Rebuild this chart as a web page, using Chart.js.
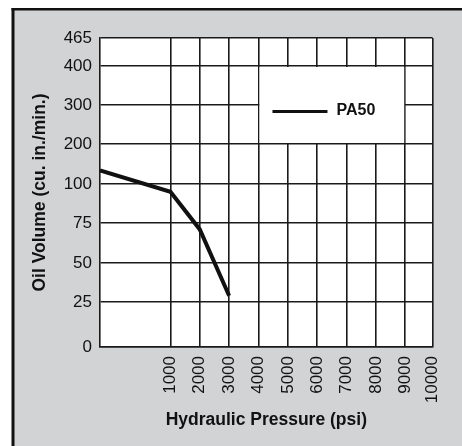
<!DOCTYPE html>
<html>
<head>
<meta charset="utf-8">
<script src="https://cdn.jsdelivr.net/npm/chart.js@4"></script>
<style>
  html, body { margin: 0; padding: 0; background: #fff; }
  canvas { display: block; }
</style>
</head>
<body>
<canvas id="chart" width="462" height="446"></canvas>
<script>
// pressure (psi) and oil volume (cu. in./min.) for PA50
const pressure = [0, 1000, 2000, 3000];
const oilVolume = [134, 95, 71, 29];
const seriesLabel = "PA50";

const xTickLabels = [1000, 2000, 3000, 4000, 5000, 6000, 7000, 8000, 9000, 10000];
const yTickLabels = [0, 25, 50, 75, 100, 200, 300, 400, 465];

// the original chart uses an uneven scale on both axes:
// value stops and where they sit along the axis (axis units)
const xStops = [0, 1000, 2000, 3000, 4000, 5000, 6000, 7000, 8000, 9000, 10000];
const xStopPos = [0, 72, 102, 132, 162, 192, 222, 252, 282, 312, 340];
const yStops = [0, 25, 50, 75, 100, 200, 300, 400, 465];
const yStopPos = [0, 45, 84, 124, 163, 203, 242, 281, 309];

function toAxis(v, stops, pos) {
  if (v <= stops[0]) return pos[0];
  for (let i = 1; i < stops.length; i++) {
    if (v <= stops[i]) {
      const t = (v - stops[i - 1]) / (stops[i] - stops[i - 1]);
      return pos[i - 1] + t * (pos[i] - pos[i - 1]);
    }
  }
  return pos[pos.length - 1];
}
const xa = v => toAxis(v, xStops, xStopPos);
const ya = v => toAxis(v, yStops, yStopPos);

const FONT = "'Liberation Sans', Arial, sans-serif";
const INK = "#111";

const frame = {
  id: "frame",
  beforeDraw(chart) {
    const { ctx, chartArea: a } = chart;
    ctx.save();
    ctx.fillStyle = "#fff";
    ctx.fillRect(0, 0, chart.width, chart.height);
    ctx.fillStyle = "#d2d3d5";
    ctx.fillRect(13, 9, chart.width - 13, chart.height - 9);
    ctx.fillStyle = "#111";
    ctx.fillRect(11.5, 8, 3, chart.height - 8);
    ctx.fillRect(11.5, 8, chart.width - 11.5, 2.5);
    ctx.fillStyle = "#fff";
    ctx.fillRect(a.left, a.top, a.right - a.left, a.bottom - a.top);
    ctx.restore();
  },
  beforeDatasetsDraw(chart) {
    const { ctx } = chart;
    const xs = chart.scales.x, ys = chart.scales.y;
    const l = xs.getPixelForValue(xa(4000)), r = xs.getPixelForValue(xa(9000));
    const t = ys.getPixelForValue(ya(400)), b = ys.getPixelForValue(ya(200));
    ctx.save();
    ctx.fillStyle = "#fff";
    ctx.fillRect(l + 1, t + 1, r - l - 2, b - t - 2);
    const ly = t + 45.5;
    ctx.strokeStyle = INK;
    ctx.lineWidth = 3;
    ctx.beginPath();
    ctx.moveTo(l + 14, ly);
    ctx.lineTo(l + 69, ly);
    ctx.stroke();
    ctx.fillStyle = INK;
    ctx.font = "bold 16px " + FONT;
    ctx.textBaseline = "middle";
    ctx.textAlign = "left";
    ctx.fillText(chart.data.datasets[0].label, l + 78, ly - 1);
    ctx.restore();
  }
};

new Chart(document.getElementById("chart"), {
  type: "line",
  data: {
    datasets: [{
      label: seriesLabel,
      data: pressure.map((p, i) => ({ x: xa(p), y: ya(oilVolume[i]) })),
      borderColor: INK,
      borderWidth: 4,
      pointRadius: 0,
      tension: 0,
      fill: false
    }]
  },
  options: {
    responsive: false,
    animation: false,
    layout: { padding: { top: 38, right: 22, bottom: 0, left: 0 } },
    plugins: { legend: { display: false }, tooltip: { enabled: false } },
    scales: {
      x: {
        type: "linear",
        min: 0,
        max: xStopPos[xStopPos.length - 1],
        afterBuildTicks: s => { s.ticks = xTickLabels.map(v => ({ value: xa(v) })); },
        afterFit: s => { s.height = 99; },
        ticks: {
          autoSkip: false,
          minRotation: 90,
          maxRotation: 90,
          padding: 9,
          color: INK,
          font: { family: FONT, size: 17 },
          callback: (v, i) => String(xTickLabels[i])
        },
        grid: { color: "#1a1a1a", lineWidth: 1.6, drawTicks: false },
        border: { color: "#1a1a1a", width: 1.6 },
        title: {
          display: true,
          text: "Hydraulic Pressure (psi)",
          color: INK,
          font: { family: FONT, size: 17.5, weight: "bold" },
          padding: { top: 0, bottom: 15 }
        }
      },
      y: {
        type: "linear",
        min: 0,
        max: yStopPos[yStopPos.length - 1],
        afterBuildTicks: s => { s.ticks = yTickLabels.map(v => ({ value: ya(v) })); },
        afterFit: s => { s.width = 100; },
        ticks: {
          autoSkip: false,
          padding: 8,
          color: INK,
          font: { family: FONT, size: 17 },
          callback: (v, i) => String(yTickLabels[i])
        },
        grid: { color: "#1a1a1a", lineWidth: 1.6, drawTicks: false },
        border: { color: "#1a1a1a", width: 1.6 },
        title: {
          display: true,
          text: "Oil Volume (cu. in./min.)",
          color: INK,
          font: { family: FONT, size: 17.5, weight: "bold" },
          padding: { top: 30, bottom: 0 }
        }
      }
    }
  },
  plugins: [frame]
});
</script>
</body>
</html>
